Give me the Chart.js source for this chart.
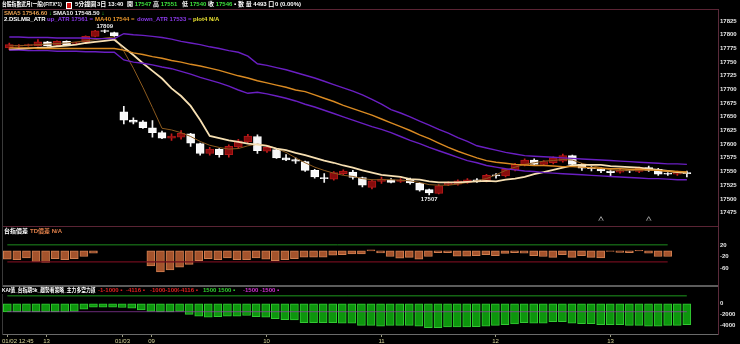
<!DOCTYPE html>
<html><head><meta charset="utf-8">
<script src="https://cdn.jsdelivr.net/npm/chart.js@4.4.1/dist/chart.umd.min.js"></script>
<style>
html,body{margin:0;padding:0;background:#000;width:740px;height:344px;overflow:hidden;position:relative;}
canvas{position:absolute;left:0;}
.t{position:absolute;white-space:nowrap;font-family:"Liberation Sans","Noto Sans CJK TC",sans-serif;font-size:6px;line-height:7px;font-weight:bold;color:#fff;}
.ln{position:absolute;}
</style></head><body>
<canvas id="c1" style="top:9px;width:740px;height:217px" width="740" height="217"></canvas>
<canvas id="c2" style="top:227px;width:740px;height:59px" width="740" height="59"></canvas>
<canvas id="c3" style="top:287px;width:740px;height:57px" width="740" height="57"></canvas>

<!-- frames -->
<div class="ln" style="left:2px;top:9px;width:716px;height:1px;background:#5a2434"></div>
<div class="ln" style="left:2px;top:226px;width:716px;height:1px;background:#5a2434"></div>
<div class="ln" style="left:2px;top:285px;width:716px;height:2px;background:#5c5c5c"></div>
<div class="ln" style="left:2px;top:334px;width:716px;height:1px;background:#6a6a6a"></div>
<div class="ln" style="left:718px;top:9px;width:1px;height:326px;background:#5a2a3a"></div>
<div class="ln" style="left:2px;top:9px;width:1px;height:326px;background:#3a3a3a"></div>

<!-- header -->
<div class="t" style="left:2px;top:1px;transform:scaleX(0.8);transform-origin:left;">台股指數近月(一般)(FITX*1)</div>
<div class="ln" style="left:66px;top:2px;width:4px;height:5px;background:#d01010;border:0.5px solid #fff"></div>
<div class="t" style="left:75px;top:1px">5分鐘圖</div>
<div class="t" style="left:97px;top:1px">3日 13:40</div>
<div class="t" style="left:127px;top:1px">開 <span style="color:#3ce23c">17547</span></div>
<div class="t" style="left:153px;top:1px">高 <span style="color:#3ce23c">17551</span></div>
<div class="t" style="left:182px;top:1px">低 <span style="color:#3ce23c">17540</span></div>
<div class="t" style="left:208px;top:1px">收 <span style="color:#3ce23c">17546</span> ▪</div>
<div class="t" style="left:238px;top:1px">數 量 4493 口</div>
<div class="t" style="left:275px;top:1px">0 (0.00%)</div>

<div class="t" style="left:4px;top:10px;color:#e8a050">SMA5 17546.60 <span style="color:#30d030">↓</span></div>
<div class="t" style="left:53px;top:10px;color:#f0f0f0">SMA10 17548.50 <span style="color:#30d030">↓</span></div>
<div class="t" style="left:4px;top:16px">2.DSLMB_ATR</div>
<div class="t" style="left:47px;top:16px;color:#8a3ae8">up_ATR 17561 =</div>
<div class="t" style="left:95px;top:16px;color:#e8952a">MA40 17544 =</div>
<div class="t" style="left:137px;top:16px;color:#8a3ae8">down_ATR 17533 =</div>
<div class="t" style="left:193px;top:16px;color:#e8e030">plot4 N/A</div>

<div class="t" style="left:4px;top:228px">台指價差</div>
<div class="t" style="left:30px;top:228px;color:#e0804a">TD價差 N/A</div>

<div class="t" style="left:2px;top:287px;background:#000;transform:scaleX(0.8);transform-origin:left;">KAI值_台指期5k_趨勢看策略_主力多空力道</div>
<div class="t" style="left:98px;top:287px;color:#e02020;background:#000">-1-1000 ▪</div>
<div class="t" style="left:126px;top:287px;color:#e02020;background:#000">-4116 ▪</div>
<div class="t" style="left:150px;top:287px;color:#e02020;background:#000">-1000-1000</div>
<div class="t" style="left:179px;top:287px;color:#e02020;background:#000">-4116 ▪</div>
<div class="t" style="left:203px;top:287px;color:#30d030;background:#000">1500 1500 ▪</div>
<div class="t" style="left:243px;top:287px;color:#d030d0;background:#000">-1500 -1500 ▪</div>

<script>
// ---------- data ----------
const openP  = [17776,17779,17780,17780,17787,17781,17788,17784,17787,17797,
                17807,17804,17659,17644,17641,17630,17621,17611,17613,17619,
                17601,17583,17591,17581,17595,17604,17614,17587,17590,17575,
                17572,17568,17552,17538,17536,17546,17549,17539,17521,17532,
                17535,17532,17536,17529,17517,17510,17526,17527,17530,17535,
                17533,17543,17542,17553,17562,17571,17563,17566,17569,17579,
                17563,17556,17555,17551,17549,17551,17550,17557,17554,17545,
                17545,17547];
const highP  = [17785,17782,17783,17791,17788,17789,17789,17786,17798,17808,
                17809,17805,17669,17648,17643,17643,17624,17619,17625,17620,
                17602,17594,17592,17599,17609,17618,17617,17597,17592,17581,
                17575,17569,17554,17546,17550,17553,17552,17540,17535,17540,
                17537,17537,17538,17530,17518,17526,17531,17535,17537,17537,
                17545,17546,17556,17565,17573,17573,17570,17577,17582,17580,
                17565,17559,17557,17553,17554,17554,17558,17560,17556,17548,
                17551,17551];
const lowP   = [17773,17777,17779,17779,17779,17780,17780,17782,17786,17796,
                17804,17797,17637,17637,17629,17613,17610,17607,17609,17596,
                17580,17580,17576,17576,17592,17602,17583,17585,17574,17570,
                17565,17550,17538,17530,17534,17544,17536,17522,17518,17528,
                17529,17530,17527,17514,17507,17509,17524,17525,17528,17530,
                17531,17538,17540,17551,17560,17562,17561,17564,17567,17561,
                17552,17551,17548,17541,17547,17548,17548,17550,17543,17543,
                17543,17540];
const closeP = [17782,17781,17782,17787,17780,17788,17781,17785,17797,17807,
                17806,17798,17644,17640,17630,17621,17611,17615,17620,17602,
                17583,17591,17581,17596,17606,17615,17588,17594,17575,17571,
                17569,17552,17540,17537,17548,17551,17539,17525,17533,17536,
                17530,17535,17529,17516,17511,17524,17529,17533,17535,17532,
                17543,17542,17554,17563,17571,17563,17568,17575,17579,17563,
                17556,17555,17551,17548,17552,17551,17556,17552,17545,17545,
                17549,17546];
const sma5 = [17780,17780,17781,17782,17783,17784,17785,17787,17789,17791,
              17794,17796,17770,17739,17704,17667,17629,17626,17621,17614,
              17605,17598,17594,17591,17592,17597,17600,17598,17592,17585,
              17575,17566,17558,17552,17547,17543,17541,17537,17535,17535,
              17535,17534,17533,17530,17526,17525,17525,17527,17530,17533,
              17537,17544,17552,17558,17563,17566,17569,17570,17572,17571,
              17565,17561,17557,17553,17552,17552,17552,17553,17552,17550,
              17548,17547];
const sma10 = [17773,17774,17775,17776,17777,17779,17780,17782,17785,17787,
               17789,17791,17777,17763,17748,17734,17720,17702,17688,17670,
               17644,17615,17611,17607,17604,17601,17599,17597,17592,17589,
               17584,17580,17575,17570,17566,17561,17557,17552,17548,17544,
               17542,17540,17536,17535,17532,17530,17530,17530,17531,17532,
               17533,17532,17535,17537,17540,17545,17549,17553,17557,17561,
               17562,17562,17562,17560,17559,17558,17557,17555,17553,17551,
               17549,17548];
const ma40 = [17776,17776,17776,17775,17775,17775,17775,17775,17775,17775,
              17775,17775,17772,17767,17764,17760,17757,17753,17750,17746,
              17743,17739,17735,17730,17725,17721,17716,17712,17708,17704,
              17699,17696,17690,17684,17678,17671,17665,17659,17653,17646,
              17639,17632,17625,17617,17610,17602,17594,17587,17581,17575,
              17570,17567,17565,17563,17562,17561,17561,17560,17559,17559,
              17558,17557,17556,17555,17555,17554,17554,17553,17552,17551,
              17550,17549];
const upATR = [17796,17796,17795,17795,17795,17794,17794,17794,17794,17793,
               17793,17793,17802,17800,17799,17797,17795,17792,17788,17785,
               17782,17778,17775,17771,17768,17761,17747,17744,17740,17736,
               17731,17726,17721,17715,17709,17703,17697,17690,17682,17673,
               17663,17657,17650,17642,17635,17627,17620,17612,17605,17597,
               17593,17589,17585,17582,17579,17578,17577,17576,17575,17574,
               17573,17572,17571,17570,17569,17568,17567,17566,17565,17564,
               17564,17563];
const downATR = [17772,17772,17771,17771,17771,17770,17770,17770,17769,17769,
                 17768,17768,17754,17750,17748,17745,17741,17738,17733,17728,
                 17722,17717,17712,17706,17699,17693,17695,17692,17688,17684,
                 17679,17673,17668,17662,17656,17650,17644,17638,17632,17627,
                 17621,17614,17607,17601,17594,17588,17582,17576,17570,17566,
                 17561,17558,17555,17553,17551,17550,17548,17547,17546,17545,
                 17544,17543,17542,17541,17540,17539,17538,17537,17537,17536,
                 17535,17535];
const tdSpread = [-28,-30,-24,-36,-39,-26,-30,-26,-19,-8,
                  null,null,null,null,null,-51,-71,-64,-55,-46,
                  -33,-26,-30,-24,-30,-30,-24,-28,-33,-30,
                  -26,-21,-21,-21,-15,-13,-10,-10,3,-7,
                  -19,-25,-22,-28,-19,-6,-6,-18,-18,-16,
                  -13,-16,-9,-6,-8,-16,-19,-22,-13,-22,
                  -16,-22,-24,-2,-5,-6,2,-8,-19,-19,
                  null,null];
const kaiPower = [-1550,-1550,-1550,-1550,-1550,-1550,-1550,-1450,-1000,-650,
                  -650,-650,-700,-850,-1150,-1450,-1550,-1550,-1450,-2000,
                  -2330,-2550,-2450,-2330,-2330,-2220,-2450,-2550,-2830,-3000,
                  -3050,-3550,-3550,-3550,-3550,-3670,-3670,-4100,-4100,-4220,
                  -4100,-4100,-4100,-4220,-4500,-4500,-4400,-4400,-4400,-4330,
                  -4220,-4100,-3950,-3830,-3550,-3670,-3670,-3380,-3380,-3670,
                  -3780,-3780,-3950,-3950,-3950,-4100,-4100,-4220,-4220,-4100,
                  -4100,-3950];
const priceTicks = [17825,17800,17775,17750,17725,17700,17675,17650,17625,17600,17575,17550,17525,17500,17475];
const tdTicks = [20,-20,-60];
const kaiTicks = [0,-2000,-4000];
const tdUpper = 20, tdLower = -37, tdLastIdx = 69;
const kaiUpper = 1500, kaiLower = -1500, kaiLastIdx = 71;
const timeTickIdx = [0,4,12,15,27,39,51,63];
const timeTickText = ["01/02 12:45","13","01/03","09","10","11","12","13"];
const markerIdx = [62,67];
const markerLevel = 17462;
const highMarkIdx = 10, lowMarkIdx = 44;

// ---------- helpers ----------
const XMIN = -0.45, XMAX = 74.26;
const up = closeP.map((c,i)=>c>openP[i]);
const pts = arr => arr.map((v,i)=>({x:i,y:v}));
const xAxis = () => ({type:'linear',min:XMIN,max:XMAX,offset:false,display:false});
const yAxis = (min,max,ticks) => ({
  type:'linear',position:'right',min:min,max:max,
  grid:{display:false,drawTicks:false,tickLength:0},border:{display:false},
  afterFit(s){s.width=22;},
  afterBuildTicks(s){s.ticks=ticks.map(v=>({value:v}));},
  ticks:{color:'#e6e6e6',padding:2,font:{family:'Liberation Sans',size:6,weight:'bold'},
    callback:v=>String(v)}
});
const baseOpts = {responsive:false,animation:false,events:[],
  plugins:{legend:{display:false},tooltip:{enabled:false}}};

// ---------- main price chart ----------
const extremes = {id:'extremes',afterDatasetsDraw(chart){
  const {ctx,scales:{x,y}} = chart;
  ctx.save();
  ctx.font='bold 6px "Liberation Sans"'; ctx.fillStyle='#e8e8e8'; ctx.textAlign='center';
  ctx.textBaseline='bottom';
  ctx.fillText(String(highP[highMarkIdx]), x.getPixelForValue(highMarkIdx), y.getPixelForValue(highP[highMarkIdx])-1);
  ctx.textBaseline='top';
  ctx.fillText(String(lowP[lowMarkIdx]), x.getPixelForValue(lowMarkIdx), y.getPixelForValue(lowP[lowMarkIdx])+1);
  ctx.restore();
}};
new Chart(document.getElementById('c1'),{
  type:'bar',
  data:{datasets:[
    {type:'line',label:'up_ATR',data:pts(upATR),borderColor:'#6a1fc2',borderWidth:1.4,pointRadius:0,order:0},
    {type:'line',label:'down_ATR',data:pts(downATR),borderColor:'#6a1fc2',borderWidth:1.4,pointRadius:0,order:0},
    {type:'line',label:'MA40',data:pts(ma40),borderColor:'#d98a22',borderWidth:1.4,pointRadius:0,order:0},
    {type:'line',label:'SMA10',data:pts(sma10),borderColor:'#f6dfb2',borderWidth:1.8,pointRadius:0,order:0},
    {type:'line',label:'SMA5',data:pts(sma5),borderColor:'#8c5a1e',borderWidth:1,pointRadius:0,order:0},
    {type:'scatter',label:'plot4',data:markerIdx.map(i=>({x:i,y:markerLevel})),pointStyle:'triangle',
      pointRadius:3,backgroundColor:'rgba(0,0,0,0)',borderColor:'#9a9a9a',borderWidth:1,order:0},
    {type:'bar',label:'wick',data:lowP.map((l,i)=>({x:i,y:[l,highP[i]]})),
      backgroundColor:up.map(u=>u?'#c41c1c':'#f2f2f2'),barThickness:1,grouped:false,order:3},
    {type:'bar',label:'body',data:openP.map((o,i)=>({x:i,y:[o,closeP[i]]})),
      backgroundColor:up.map(u=>u?'#860c0c':'#f8f8f8'),borderColor:up.map(u=>u?'#b01818':'#ffffff'),
      borderWidth:1,borderSkipped:false,barThickness:8,grouped:false,minBarLength:1,order:2}
  ]},
  options:{...baseOpts,layout:{padding:{left:3,right:0,top:0,bottom:0}},
    scales:{x:xAxis(),y:yAxis(17460.6,17836.9,priceTicks)}},
  plugins:[extremes]
});

// ---------- TD spread panel ----------
new Chart(document.getElementById('c2'),{
  type:'bar',
  data:{datasets:[
    {type:'line',data:[{x:0,y:tdUpper},{x:tdLastIdx,y:tdUpper}],borderColor:'#1e8c1e',borderWidth:1,pointRadius:0,order:0},
    {type:'line',data:[{x:0,y:tdLower},{x:tdLastIdx,y:tdLower}],borderColor:'#6e0c1c',borderWidth:1.2,pointRadius:0,order:0},
    {type:'bar',data:pts(tdSpread),backgroundColor:'#a4532c',borderColor:'#d07e50',borderWidth:1,
      borderSkipped:false,barThickness:8,grouped:false,order:1}
  ]},
  options:{...baseOpts,layout:{padding:{left:3,right:0,top:0,bottom:0}},
    scales:{x:xAxis(),y:yAxis(-99.2,61.1,tdTicks)}}
});

// ---------- KAI panel ----------
const timeAxis = {id:'timeAxis',afterDraw(chart){
  const {ctx,chartArea,scales:{x}} = chart;
  ctx.save();
  ctx.font='6px "Liberation Sans"'; ctx.textBaseline='top';
  timeTickIdx.forEach((idx,k)=>{
    const px = Math.round(x.getPixelForValue(idx))+0.5;
    ctx.strokeStyle='#9a9a80'; ctx.lineWidth=1;
    ctx.beginPath(); ctx.moveTo(px,chartArea.bottom+1); ctx.lineTo(px,chartArea.bottom+3); ctx.stroke();
    ctx.fillStyle='#d8d49a';
    const w = ctx.measureText(timeTickText[k]).width;
    let left = px - w/2; if (left < 2) left = 2;
    ctx.textAlign='left';
    ctx.fillText(timeTickText[k], left, chartArea.bottom+4);
  });
  ctx.restore();
}};
new Chart(document.getElementById('c3'),{
  type:'bar',
  data:{datasets:[
    {type:'line',data:[{x:0,y:kaiUpper},{x:kaiLastIdx,y:kaiUpper}],borderColor:'#1e9a1e',borderWidth:1,pointRadius:0,order:0},
    {type:'line',data:[{x:0,y:kaiLower},{x:kaiLastIdx,y:kaiLower}],borderColor:'rgba(150,60,170,0.7)',borderWidth:1,pointRadius:0,order:0},
    {type:'bar',data:pts(kaiPower),backgroundColor:'#0d960d',borderColor:'#34c834',borderWidth:1,
      borderSkipped:false,barThickness:8,grouped:false,order:1}
  ]},
  options:{...baseOpts,layout:{padding:{left:3,right:0,top:0,bottom:10}},
    scales:{x:xAxis(),y:yAxis(-5717,2117,kaiTicks)}},
  plugins:[timeAxis]
});
</script>
</body></html>
